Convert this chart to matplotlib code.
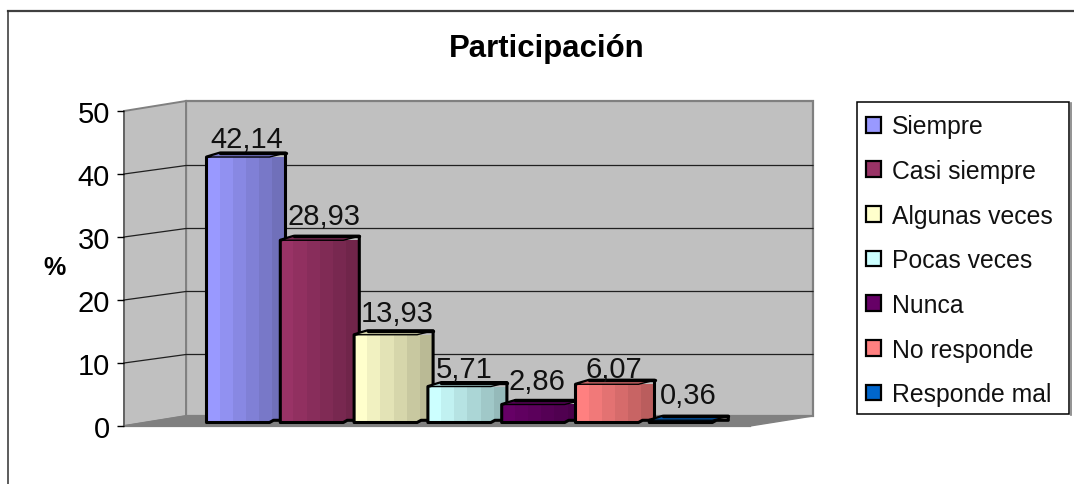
import matplotlib
matplotlib.use('Agg')
import matplotlib.pyplot as plt
from matplotlib.patches import Patch, Polygon, Rectangle
from matplotlib.colors import to_rgb

categories = ['Siempre', 'Casi siempre', 'Algunas veces', 'Pocas veces',
              'Nunca', 'No responde', 'Responde mal']
values = [42.14, 28.93, 13.93, 5.71, 2.86, 6.07, 0.36]
labels = ['42,14', '28,93', '13,93', '5,71', '2,86', '6,07', '0,36']
colors = ['#9999FF', '#993366', '#FFFFCC', '#CCFFFF', '#660066', '#FF8080', '#0066CC']
yticks = [0, 10, 20, 30, 40, 50]

# label nudges in pixels, the original places them a bit unevenly
label_dx = [1, 4, 4, -3, -4, -1, -1]
label_dy = [14, 20, 17, 13, 19, 11, 21]

W, H = 1074, 485
fig = plt.figure(figsize=(W / 100, H / 100), dpi=100)
plt.rcParams['font.family'] = ['Liberation Sans', 'DejaVu Sans']

# full figure axes in pixels for frame and walls
bg = fig.add_axes([0, 0, 1, 1], zorder=0)
bg.set_xlim(0, W)
bg.set_ylim(H, 0)
bg.axis('off')

# front plane of the chart: x is category index, y is percent
left, right, y0, y50 = 124, 748, 427, 112
step = 73.8
first = 246
ax = fig.add_axes([left / W, 1 - y0 / H, (right - left) / W, (y0 - y50) / H], zorder=1)
ax.set_xlim((left - first) / step, (right - first) / step)
ax.set_ylim(0, 50)
ax.patch.set_alpha(0)
for s in ax.spines.values():
    s.set_visible(False)
ax.set_xticks([])
ax.set_yticks(yticks)
ax.tick_params(axis='y', length=5, width=1, color='black', labelsize=21, pad=5)

ppu = (y0 - y50) / 50
dx_wall, dy_wall = 62, -10
dy_grid = -8.5

# frame
bg.plot([8, W], [11.5, 11.5], color='#404040', lw=1.6)
bg.plot([8, 8], [11.5, H], color='#303030', lw=1.1)

# walls and floor
wall_edge = '#808080'
bg.add_patch(Polygon([(left + dx_wall, y50 + dy_wall), (813, y50 + dy_wall),
                      (813, y0 + dy_wall), (left + dx_wall, y0 + dy_wall)],
                     fc='#C0C0C0', ec=wall_edge, lw=1.6))
bg.add_patch(Polygon([(left, y50), (left + dx_wall, y50 + dy_wall),
                      (left + dx_wall, y0 + dy_wall), (left, y0)],
                     fc='#C0C0C0', ec=wall_edge, lw=1.4))
bg.add_patch(Polygon([(left, y0), (left + dx_wall, y0 + dy_wall),
                      (813, y0 + dy_wall), (right + 2, y0)],
                     fc='#808080', ec=wall_edge, lw=1))
bg.plot([left, right + 2], [y0, y0], color='#808080', lw=1.6)
bg.plot([left, left], [y50, y0], color='#606060', lw=1.2)

# gridlines
for t in yticks[1:-1]:
    yy = y0 - t * ppu
    bg.plot([left, left + dx_wall, 813], [yy, yy + dy_grid, yy + dy_grid],
            color='#202020', lw=0.9)

# bars, each one overlaps the previous
bar_w = 79 / step
n_bands = 6
front = 63 / 79
lift = 3.5 / ppu
cap = 4 / ppu
for i, v in enumerate(values):
    x0 = i - bar_w / 2
    x1 = i + bar_w / 2
    xf = x0 + bar_w * front
    top = v + lift
    c = to_rgb(colors[i])
    z = 3 + i
    for b in range(n_bands):
        shade = 1 - 0.27 * b / (n_bands - 1)
        bx0 = x0 + bar_w * b / n_bands
        bx1 = x0 + bar_w * (b + 1) / n_bands
        bot = lift if bx1 <= xf else lift + 0.25
        ax.add_patch(Rectangle((bx0, bot), bx1 - bx0, top - bot,
                               fc=[ch * shade for ch in c], ec='none', zorder=z))
    # outline and top cap
    outline = [(x0, lift), (xf, lift), (xf + bar_w * 0.05, lift + 0.35), (x1, lift + 0.35),
               (x1, top + cap), (x0 + bar_w * 0.17, top + cap), (x0, top)]
    ax.add_patch(Polygon(outline, closed=True, fc='none', ec='black', lw=2.2,
                         zorder=z + 0.5, joinstyle='round', clip_on=False))
    ax.add_patch(Polygon([(x0, top), (xf, top), (x1, top + cap), (x0 + bar_w * 0.17, top + cap)],
                         closed=True, fc=[ch * 0.8 for ch in c], ec='black', lw=1,
                         zorder=z + 0.6, clip_on=False))
    ax.plot([x0 + bar_w * 0.17, x1], [top + cap, top + cap], color='black', lw=2.4,
            zorder=z + 0.7, clip_on=False, solid_capstyle='round')

for i, v in enumerate(values):
    ax.annotate(labels[i], (i, v), xytext=(label_dx[i] * 0.72, label_dy[i] * 0.72),
                textcoords='offset points', ha='center', va='baseline',
                fontsize=21, color='#111111', zorder=20, annotation_clip=False)

# title and axis label
bg.text(547, 49, 'Participación', ha='center', va='center', fontsize=22.4,
        fontweight='bold', color='black')
bg.text(54, 268, '%', ha='center', va='center', fontsize=18, fontweight='bold', color='black')

# legend box drawn by hand, with the gray shadow on its right side
bg.add_patch(Rectangle((857, 103), 212, 312, fc='white', ec='black', lw=1.1))
bg.plot([1070.5, 1070.5], [104, 416], color='#808080', lw=1.2)
handles = [Patch(fc=c, ec='black', lw=1.6) for c in colors]
leg = fig.legend(handles, categories, loc='upper left',
                 bbox_to_anchor=(856 / W, 1 - 105 / H), bbox_transform=fig.transFigure,
                 fontsize=17.8, frameon=False, borderpad=0.42, borderaxespad=0,
                 labelspacing=0.835, handlelength=0.6, handleheight=0.6,
                 handletextpad=0.42, labelcolor='#111111')

fig.savefig('out.png', dpi=100)
